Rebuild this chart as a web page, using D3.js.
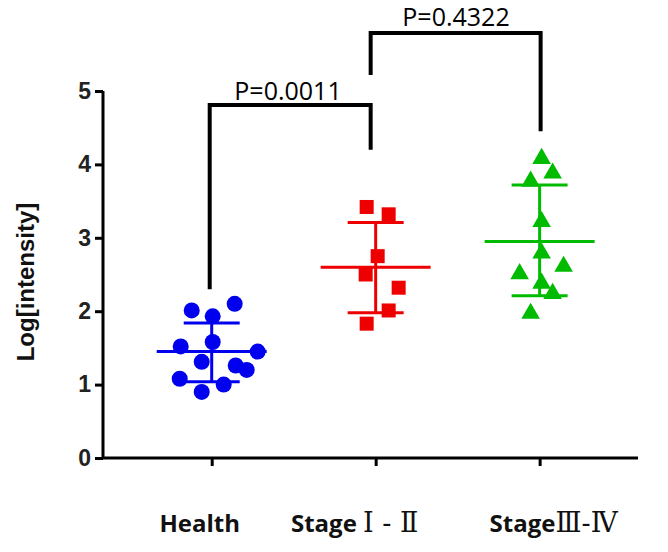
<!DOCTYPE html><html><head><meta charset="utf-8"><script src="https://cdn.jsdelivr.net/npm/d3@7"></script>
<style>body{margin:0;background:#fff}</style></head><body><svg id="c" width="668" height="552"></svg>
<script>
const categories=[["Health",""],["Stage ","Ⅰ - Ⅱ"],["Stage","Ⅲ-Ⅳ"]];
const colors=["#0000ee","#ee0000","#00bb00"];
const healthVals=[2.01,2.10,1.93,1.52,1.58,1.45,1.31,1.26,1.20,1.08,1.00,0.90];
const healthJit=[-20,23,1,-31,1,46,-10,24,35,-32,12,-10];
const stage12Vals=[3.42,3.32,2.75,2.50,2.32,2.01,1.83];
const stage12Jit=[-9,13,2,-10,23,13,-9];
const stage34Vals=[4.08,3.88,3.77,3.22,2.79,2.61,2.51,2.38,2.24,1.97];
const stage34Jit=[2,13,-9,2,2,24,-20,2,13,-9];
const means=[1.45,2.60,2.95];
const sdTop=[1.84,3.21,3.72];
const sdBot=[1.04,1.98,2.21];
const yTicks=[0,1,2,3,4,5];
const pLabels=["P=0.0011","P=0.4322"];
const svg=d3.select("#c");
const x=d3.scaleLinear().domain([-0.663,2.6]).range([103,638]);
const y=d3.scaleLinear().domain([0,5]).range([458,91]);
const ppx=1/164;
const ya=svg.append("g").attr("transform","translate(103,0)").call(d3.axisLeft(y).tickValues(yTicks).tickFormat(d3.format("d")).tickSize(8).tickSizeOuter(0));
ya.select(".domain").attr("stroke-width",3).attr("d","M0,"+y(5)+"V"+y(0));
ya.selectAll(".tick line").attr("stroke-width",3);
ya.selectAll("text").attr("font-family","Liberation Sans, Arial").attr("font-weight","bold").attr("font-size",23).attr("fill","#222").attr("dx",-1);
const xa=svg.append("g").attr("transform","translate(0,458)").call(d3.axisBottom(x).tickValues([0,1,2]).tickFormat(()=>"").tickSize(8).tickSizeOuter(0));
xa.select(".domain").attr("stroke-width",3).attr("d","M103,0H638");
xa.selectAll(".tick line").attr("stroke-width",3);
categories.forEach((c,i)=>{const t=svg.append("text").attr("x",x(i)+[-12,-21,14][i]).attr("y",532).attr("text-anchor","middle")
 .attr("font-family","Open Sans, Noto Sans").attr("font-weight","bold").attr("font-size",24).attr("fill","#111");
 t.append("tspan").text(c[0]);
 if(c[1])t.append("tspan").attr("font-family","DejaVu Serif, Liberation Serif").attr("font-weight","normal").attr("font-size",27).text(c[1]);});
svg.append("text").attr("transform","translate(34,282) rotate(-90)").attr("text-anchor","middle")
 .attr("font-family","Liberation Sans, Arial").attr("font-weight","bold").attr("font-size",24).attr("fill","#111").text("Log[intensity]");
[0,1,2].forEach(i=>{const g=svg.append("g").attr("stroke",colors[i]).attr("stroke-width",3);
 g.append("line").attr("x1",x(i)).attr("x2",x(i)).attr("y1",y(sdTop[i])).attr("y2",y(sdBot[i]));
 g.append("line").attr("x1",x(i-55*ppx)).attr("x2",x(i+55*ppx)).attr("y1",y(means[i])).attr("y2",y(means[i]));
 [sdTop[i],sdBot[i]].forEach(v=>g.append("line").attr("x1",x(i-28*ppx)).attr("x2",x(i+28*ppx)).attr("y1",y(v)).attr("y2",y(v)));
});
healthVals.forEach((v,k)=>svg.append("circle").attr("cx",x(healthJit[k]*ppx)).attr("cy",y(v)).attr("r",8).attr("fill",colors[0]));
stage12Vals.forEach((v,k)=>svg.append("rect").attr("x",x(1+stage12Jit[k]*ppx)-7).attr("y",y(v)-7).attr("width",14).attr("height",14).attr("fill",colors[1]));
const tri=d3.symbol().type(d3.symbolTriangle).size(150);
stage34Vals.forEach((v,k)=>svg.append("path").attr("d",tri()).attr("transform",`translate(${x(2+stage34Jit[k]*ppx)},${y(v)})`).attr("fill",colors[2]));
const br=svg.append("g").attr("fill","none").attr("stroke","#000").attr("stroke-width",4);
br.append("path").attr("d",`M${x(0)-2},${y(2.3)}V105H${x(1)-5}V${y(4.2)}`);
br.append("path").attr("d",`M${x(1)-5},75V33H${x(2)+1}V${y(4.45)}`);
svg.append("text").attr("x",288).attr("y",100).attr("text-anchor","middle").attr("font-family","Open Sans, Noto Sans").attr("font-size",25).text(pLabels[0]);
svg.append("text").attr("x",456).attr("y",26).attr("text-anchor","middle").attr("font-family","Open Sans, Noto Sans").attr("font-size",25).text(pLabels[1]);
</script></body></html>
